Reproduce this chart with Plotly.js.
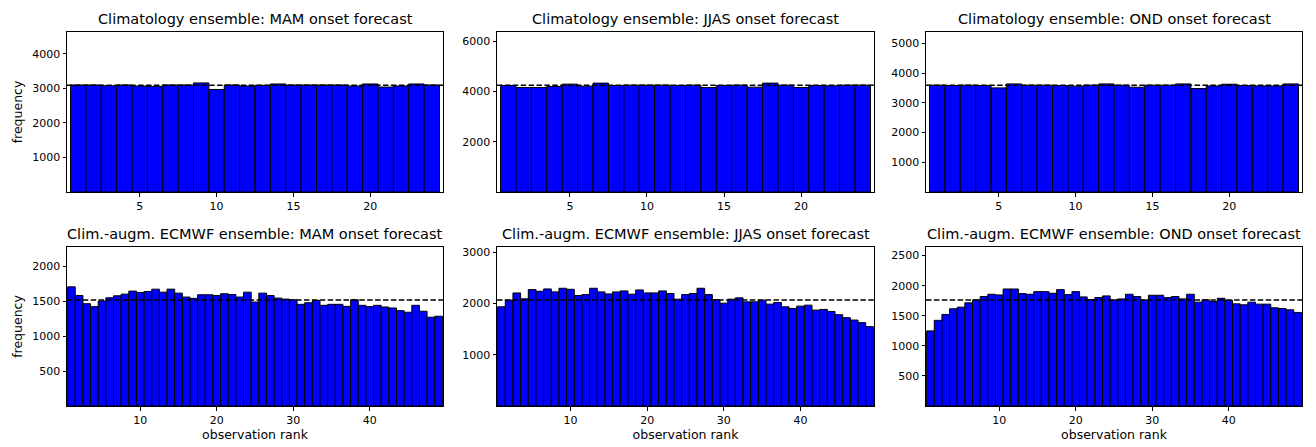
<!DOCTYPE html>
<html>
<head>
<meta charset="utf-8">
<script src="https://cdn.plot.ly/plotly-3.0.1.min.js"></script>
<style>html,body{margin:0;padding:0;background:#fff;}#chart{width:1316px;height:447px;}</style>
</head>
<body>
<div id="chart"></div>
<script>
// ---- data ----
const ranksTop = [1,2,3,4,5,6,7,8,9,10,11,12,13,14,15,16,17,18,19,20,21,22,23,24];
const ranksBottom = [1,2,3,4,5,6,7,8,9,10,11,12,13,14,15,16,17,18,19,20,21,22,23,24,25,
  26,27,28,29,30,31,32,33,34,35,36,37,38,39,40,41,42,43,44,45,46,47,48,49];

const titles = [
  "Climatology ensemble: MAM onset forecast",
  "Climatology ensemble: JJAS onset forecast",
  "Climatology ensemble: OND onset forecast",
  "Clim.-augm. ECMWF ensemble: MAM onset forecast",
  "Clim.-augm. ECMWF ensemble: JJAS onset forecast",
  "Clim.-augm. ECMWF ensemble: OND onset forecast"
];

const climMAM  = [3100,3100,3080,3100,3070,3060,3100,3100,3160,2970,3100,3070,3090,3130,3100,3100,3100,3100,3070,3130,3040,3070,3130,3100];
const climJJAS = [4240,4160,4160,4200,4293,4213,4333,4240,4253,4253,4253,4240,4253,4160,4240,4253,4173,4333,4253,4160,4240,4227,4253,4253];
const climOND  = [3594,3582,3594,3582,3504,3638,3594,3594,3582,3560,3594,3638,3594,3526,3594,3594,3638,3482,3571,3627,3582,3571,3571,3638];

const ecmwfMAM = [1703,1580,1462,1420,1500,1547,1575,1599,1642,1623,1637,1670,1627,1670,1613,1557,1538,1590,1590,1580,1604,1594,1557,1627,
  1486,1613,1580,1542,1528,1519,1453,1476,1509,1439,1453,1453,1424,1519,1439,1420,1439,1415,1401,1363,1340,1439,1354,1269,1283];
const ecmwfJJAS = [1935,2065,2206,2090,2271,2239,2284,2226,2297,2277,2155,2174,2297,2226,2187,2226,2245,2181,2264,2206,2206,2245,2194,2084,
  2174,2194,2297,2174,2077,2006,2084,2110,2032,2032,2065,1987,2019,1935,1903,1948,1968,1871,1884,1845,1781,1723,1677,1626,1548];
const ecmwfOND = [1248,1424,1522,1616,1643,1715,1764,1819,1857,1846,1945,1945,1868,1857,1901,1901,1874,1934,1852,1901,1813,1769,1802,1830,
  1764,1780,1857,1819,1764,1841,1841,1802,1819,1780,1857,1726,1764,1736,1791,1758,1698,1682,1726,1693,1693,1632,1621,1599,1555];

// expected (uniform) frequency per rank, drawn as dashed line
const expected = [3090, 4245, 3590, 1515, 2068, 1762];

const yTicks = [
  [1000,2000,3000,4000],
  [2000,4000,6000],
  [1000,2000,3000,4000,5000],
  [500,1000,1500,2000],
  [1000,2000,3000],
  [500,1000,1500,2000,2500]
];
const xTicksTop = [5,10,15,20];
const xTicksBottom = [10,20,30,40];

const series = [climMAM, climJJAS, climOND, ecmwfMAM, ecmwfJJAS, ecmwfOND];

// ---- layout geometry (pixels) ----
const W = 1316, H = 447;
const colPx = [[67,443],[497,874],[926,1302]];
const rowPx = [[32,192],[247,406]];

const font = "DejaVu Sans, Verdana, sans-serif";
const traces = [];
const layout = {
  width: W, height: H,
  margin: {l:0, r:0, t:0, b:0},
  paper_bgcolor: "#ffffff",
  plot_bgcolor: "#ffffff",
  showlegend: false,
  bargap: 0,
  font: {family: font, color: "#000000", size: 11},
  shapes: [],
  annotations: []
};

for (let i = 0; i < 6; i++) {
  const row = Math.floor(i / 3), col = i % 3;
  const ax = i === 0 ? "" : String(i + 1);
  const xs = row === 0 ? ranksTop : ranksBottom;
  traces.push({
    type: "bar",
    x: xs,
    y: series[i],
    xaxis: "x" + ax,
    yaxis: "y" + ax,
    width: 1,
    marker: {color: "#0000ff", line: {color: "#000000", width: 1}},
    hoverinfo: "x+y"
  });
  const xd = [colPx[col][0] / W, colPx[col][1] / W];
  const yd = [1 - rowPx[row][1] / H, 1 - rowPx[row][0] / H];
  const top = 1.5 * expected[i];
  layout["xaxis" + ax] = {
    domain: xd,
    anchor: "y" + ax,
    range: row === 0 ? [0.27, 24.73] : [0.42, 49.58],
    tickvals: row === 0 ? xTicksTop : xTicksBottom,
    ticks: "outside", ticklen: 3.5, tickwidth: 1, tickcolor: "#000",
    showline: true, linecolor: "#000", linewidth: 1, mirror: true,
    showgrid: false, zeroline: false,
    tickfont: {size: 11, color: "#000", family: font},
    title: row === 1 ? {text: "observation rank", font: {size: 12.5, color: "#000", family: font}, standoff: 3} : {text: ""}
  };
  layout["yaxis" + ax] = {
    domain: yd,
    anchor: "x" + ax,
    range: [0, top],
    tickvals: yTicks[i],
    ticks: "outside", ticklen: 3.5, tickwidth: 1, tickcolor: "#000",
    showline: true, linecolor: "#000", linewidth: 1, mirror: true,
    showgrid: false, zeroline: false,
    tickfont: {size: 11, color: "#000", family: font},
    title: col === 0 ? {text: "frequency", font: {size: 12.5, color: "#000", family: font}, standoff: 6} : {text: ""}
  };
  layout.shapes.push({
    type: "line", xref: "x" + ax + " domain", yref: "y" + ax,
    x0: 0, x1: 1, y0: expected[i], y1: expected[i],
    line: {color: "#000", width: 1.5, dash: "5.5px,2.4px"}
  });
  layout.annotations.push({
    text: titles[i], showarrow: false,
    xref: "paper", yref: "paper",
    x: (xd[0] + xd[1]) / 2, y: yd[1],
    xanchor: "center", yanchor: "bottom", yshift: 3,
    font: {size: 14.5, color: "#000", family: font}
  });
}

Plotly.newPlot("chart", traces, layout, {displayModeBar: false, staticPlot: true});
</script>
</body>
</html>
